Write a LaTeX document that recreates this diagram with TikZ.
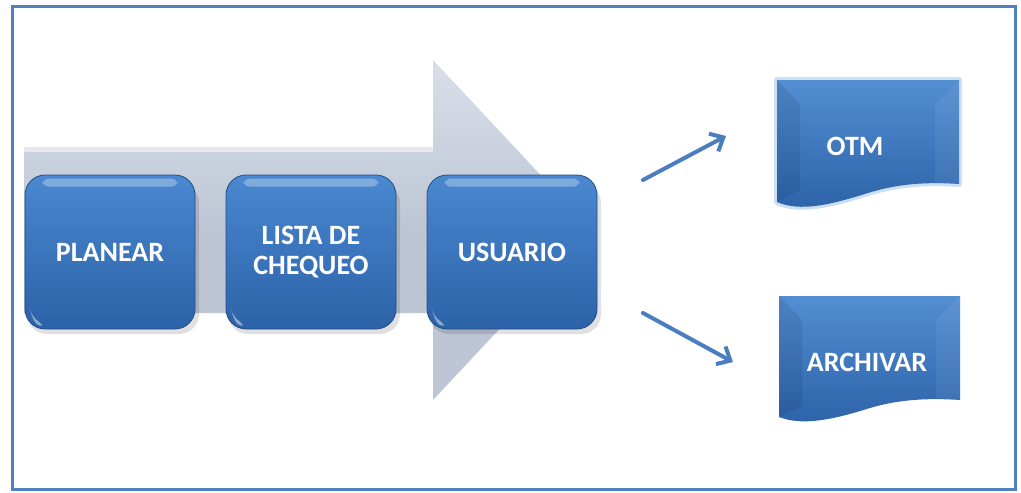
\documentclass[tikz,border=0pt]{standalone}
\usepackage{fontspec}
\setmainfont{Carlito}
\usetikzlibrary{arrows.meta,shapes.misc}
\definecolor{frameblue}{HTML}{4F81BD}
\definecolor{boxtop}{HTML}{4A88D0}
\definecolor{boxbot}{HTML}{2C62A8}
\definecolor{bigarrow}{HTML}{BEC6D5}
\definecolor{bigarrowlt}{HTML}{D9DFE9}
\definecolor{arrowblue}{HTML}{4A7EC0}
\definecolor{glow}{HTML}{A9C8EE}
\tikzset{
  stepbox/.style={rectangle, rounded corners=20pt, minimum width=170pt, minimum height=154pt,
    top color=boxtop, bottom color=boxbot, draw=boxbot!80!black, line width=0.8pt,
    text=white, font=\bfseries\fontsize{28}{30}\selectfont, align=center, inner sep=0pt},
  docfill/.style={top color=boxtop!95!white, bottom color=boxbot, draw=none},
  docglow/.style={draw=glow, line width=6pt, opacity=0.6, line join=round},
  doclabel/.style={text=white, font=\bfseries\fontsize{28}{30}\selectfont, inner sep=0pt},
  flowarrow/.style={draw=arrowblue, line width=4pt, -{Straight Barb[length=11pt,width=20pt,line width=4pt]}, line cap=round},
}
\begin{document}
\begin{tikzpicture}[x=1pt,y=-1pt]
\useasboundingbox (0,0) rectangle (1021,493);
\fill[white] (0,0) rectangle (1021,493);
% frame
\draw[frameblue, line width=3pt] (12,6) rectangle (1015,489);
% big background arrow
\path[top color=bigarrowlt, bottom color=bigarrow, middle color=bigarrow]
  (24,147) -- (433,147) -- (433,60) -- (592,230) -- (433,400) -- (433,313) -- (24,313) -- cycle;
\fill[white, opacity=0.5] (24,147) rectangle (433,152);
% boxes
\fill[black, opacity=0.12, rounded corners=20pt] (27,183) rectangle (199,334);
\fill[black, opacity=0.12, rounded corners=20pt] (228,183) rectangle (400,334);
\fill[black, opacity=0.12, rounded corners=20pt] (429,183) rectangle (601,334);
\node[stepbox] (planear) at (110,252) {PLANEAR};
\node[stepbox] (lista) at (311,252) {LISTA DE\\CHEQUEO};
\node[stepbox] (usuario) at (512,252) {USUARIO};
% glossy highlights
\foreach \n in {planear,lista,usuario}{
  \fill[white, opacity=0.3, rounded corners=6pt]
    ([xshift=18pt,yshift=-4pt]\n.north west) rectangle ([xshift=-18pt,yshift=-12pt]\n.north east);
  \fill[white, opacity=0.45] ([xshift=5pt,yshift=22pt]\n.south west) .. controls +(2,8) and +(-8,2) .. ([xshift=18pt,yshift=4pt]\n.south west) -- ([xshift=14pt,yshift=8pt]\n.south west) .. controls +(-4,-2) and +(0,4) .. cycle;
}
% documents
\path[docglow] (777,80) -- (959,80) -- (959,184) .. controls (930,182) and (900,183) .. (868,193) .. controls (830,205) and (800,212) .. (777,202) -- cycle;
\path[docfill] (777,80) -- (959,80) -- (959,184) .. controls (930,182) and (900,183) .. (868,193) .. controls (830,205) and (800,212) .. (777,202) -- cycle;
\fill[black, opacity=0.08] (777,80) -- (800,104) -- (800,190) -- (777,202) -- cycle;
\fill[white, opacity=0.06] (959,80) -- (935,104) -- (935,182) -- (959,184) -- cycle;
\node[doclabel] (otm) at (855,146) {OTM};
\path[docfill] (779,296) -- (960,296) -- (960,400) .. controls (930,398) and (900,399) .. (870,408) .. controls (832,420) and (802,426) .. (779,417) -- cycle;
\fill[black, opacity=0.08] (779,296) -- (802,320) -- (802,406) -- (779,417) -- cycle;
\fill[white, opacity=0.06] (960,296) -- (936,320) -- (936,398) -- (960,400) -- cycle;
\node[doclabel] (archivar) at (867,362) {ARCHIVAR};
% connectors
\coordinate (a1s) at (643,180);
\coordinate (a1e) at (726,136);
\coordinate (a2s) at (643,313);
\coordinate (a2e) at (733,362);
\draw[flowarrow] (a1s) -- (a1e);
\draw[flowarrow] (a2s) -- (a2e);
\end{tikzpicture}
\end{document}
